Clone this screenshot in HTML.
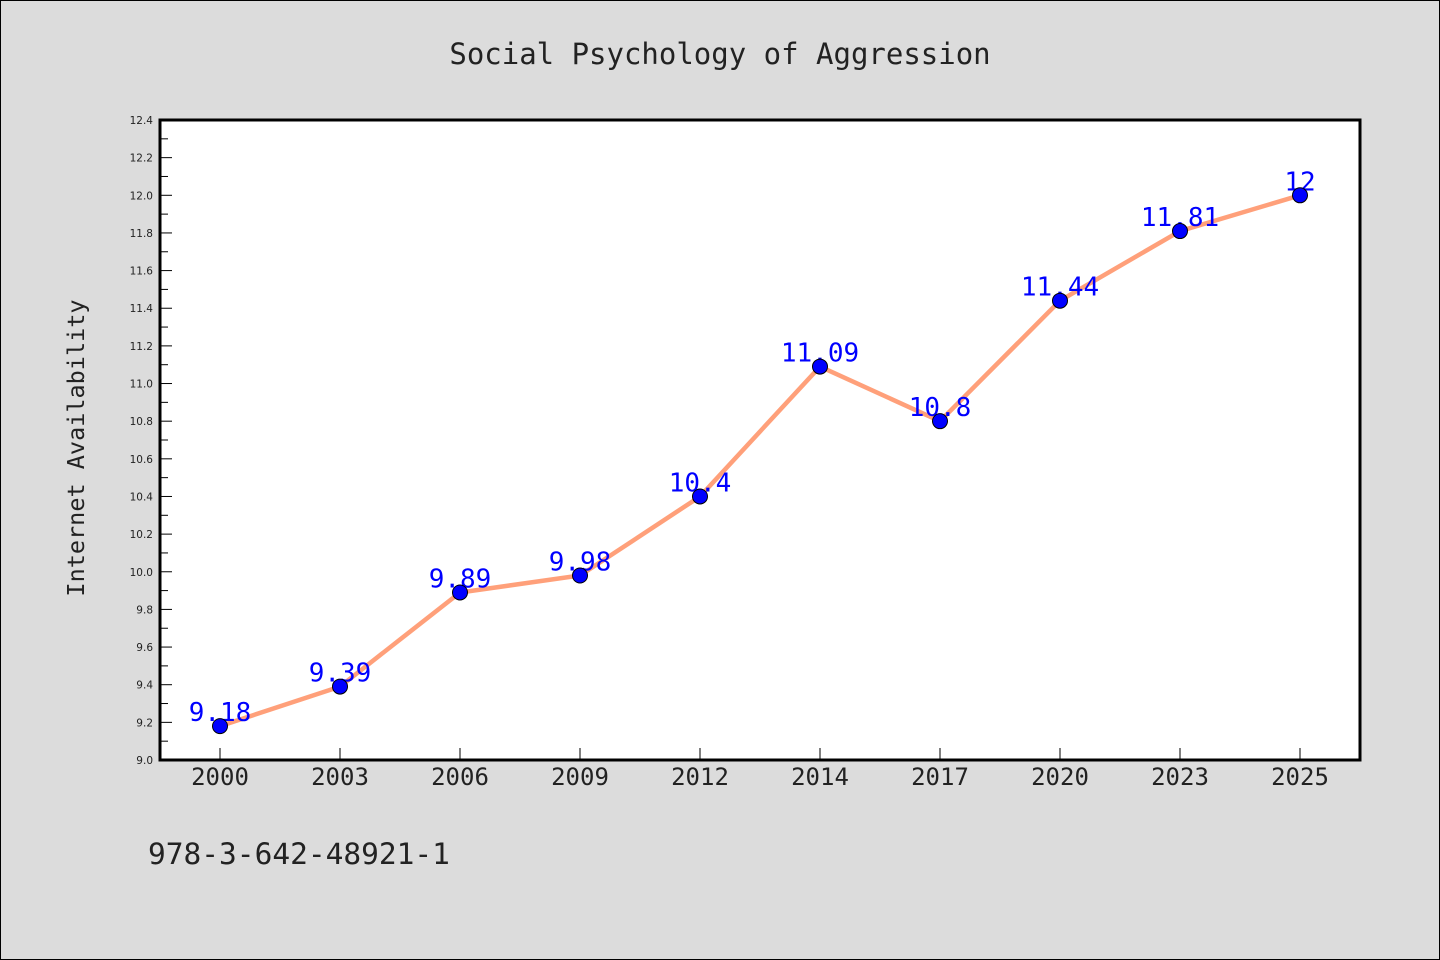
<!DOCTYPE html>
<html><head><meta charset="utf-8"><style>
html,body{margin:0;padding:0;}
body{width:1440px;height:960px;background:#dcdcdc;font-family:"DejaVu Sans Mono",monospace;}
#wrap{position:absolute;left:0;top:0;width:1438px;height:958px;border:1px solid #000;}
</style></head><body>
<div id="wrap"></div>
<svg id="chart" width="1440" height="960" style="position:absolute;left:0;top:0">
<text x="720" y="64" text-anchor="middle" font-size="29" fill="#222" style="font-family:'DejaVu Sans Mono',monospace">Social Psychology of Aggression</text>
<text transform="translate(84,448) rotate(-90)" text-anchor="middle" font-size="23.5" fill="#222" style="font-family:'DejaVu Sans Mono',monospace">Internet Availability</text>
<text x="148" y="864" font-size="29.5" fill="#222" style="font-family:'DejaVu Sans Mono',monospace">978-3-642-48921-1</text>
<rect x="160" y="120" width="1200" height="640" fill="#fff"/>
<g id="axes"></g>
<g id="marks"></g>
<rect x="160" y="120" width="1200" height="640" fill="none" stroke="#000" stroke-width="3"/>
</svg>
<script>
const categories=["2000","2003","2006","2009","2012","2014","2017","2020","2023","2025"];
const values=[9.18,9.39,9.89,9.98,10.4,11.09,10.8,11.44,11.81,12];
const valueLabels=["9.18","9.39","9.89","9.98","10.4","11.09","10.8","11.44","11.81","12"];
const yTicks=[9.0,9.2,9.4,9.6,9.8,10.0,10.2,10.4,10.6,10.8,11.0,11.2,11.4,11.6,11.8,12.0,12.2,12.4];
const yMin=9.0,yMax=12.4;
const L=160,R=1360,T=120,B=760;
const ns="http://www.w3.org/2000/svg";
const MONO="font-family:'DejaVu Sans Mono',monospace";
function y(v){return B-(v-yMin)/(yMax-yMin)*(B-T);}
function x(i){return L+60+i*(R-L-120)/(categories.length-1);}
function mk(tag,attrs,parent){const e=document.createElementNS(ns,tag);for(const k in attrs)e.setAttribute(k,attrs[k]);parent.appendChild(e);return e;}
const axes=document.getElementById('axes'),marks=document.getElementById('marks');
yTicks.forEach((t,i)=>{
  const l=mk('line',{x1:L,x2:L+12,y1:y(t),y2:y(t),stroke:'#000','stroke-width':1},axes);
  
  
  const tx=mk('text',{x:L-7,y:y(t)+4,'text-anchor':'end','font-size':10.5,fill:'#222',style:"font-family:'DejaVu Sans',sans-serif"},axes);
  tx.textContent=t.toFixed(1);
  
  
  if(i<yTicks.length-1){
    const m=mk('line',{x1:L,x2:L+8,y1:y(t+0.1),y2:y(t+0.1),stroke:'#000','stroke-width':1},axes);
    
    
  }
});
categories.forEach((c,i)=>{
  const l=mk('line',{x1:x(i),x2:x(i),y1:B,y2:B-12,stroke:'#000','stroke-width':1},axes);
  
  
  const tx=mk('text',{x:x(i),y:B+25,'text-anchor':'middle','font-size':24,fill:'#222',style:MONO},axes);
  tx.textContent=c;
  
  
});
const pl=mk('polyline',{points:values.map((v,i)=>x(i)+','+y(v)).join(' '),fill:'none',stroke:'#ffa07a','stroke-width':4.5},marks);


values.forEach((v,i)=>{
  const tx=mk('text',{x:x(i),y:y(v)-5,'text-anchor':'middle','font-size':26,fill:'#0000ff',style:MONO},marks);
  tx.textContent=valueLabels[i];
  
  
});
values.forEach((v,i)=>{
  const c=mk('circle',{cx:x(i),cy:y(v),r:7.5,fill:'#0000ff',stroke:'#000','stroke-width':1},marks);
  
  
});
</script>
</body></html>
